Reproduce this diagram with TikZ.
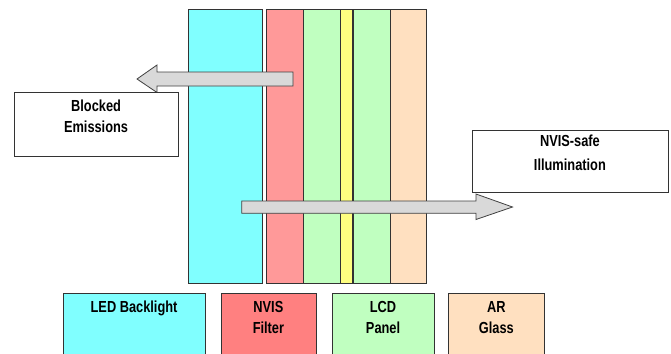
\documentclass[tikz,border=0pt]{standalone}
\usepackage{fontspec}
\setmainfont{Liberation Sans}
\usetikzlibrary{positioning}

\definecolor{ledcyan}{HTML}{80FFFF}
\definecolor{filterred}{HTML}{FF9999}
\definecolor{filterlabel}{HTML}{FF8080}
\definecolor{lcdgreen}{HTML}{C0FFC0}
\definecolor{lcyellow}{HTML}{FFFF80}
\definecolor{glasspeach}{HTML}{FFE0C0}
\definecolor{arrowgray}{HTML}{D9D9D9}

\tikzset{
  layer/.style={draw=black!80, anchor=north west, inner sep=0pt, minimum height=274pt},
  labelbox/.style={draw=black!80, anchor=north west, inner sep=0pt, minimum height=80pt},
  notebox/.style={draw=black!80, fill=white, anchor=north west, inner sep=0pt},
  caption/.style={inner sep=0pt, align=center, font=\fontsize{16}{21}\selectfont\bfseries, xscale=0.8, transform shape},
  blockarrow/.style={draw=black!75, fill=arrowgray, line width=0.8pt}
}

\begin{document}
\begin{tikzpicture}[x=1pt, y=-1pt]
  \useasboundingbox (0,0) rectangle (671,353);
  \clip (0,0) rectangle (671,353);

  % display stack
  \node[layer, fill=ledcyan, minimum width=74pt] (backlight) at (188.3,9.3) {};
  \node[layer, fill=filterred, minimum width=36.6pt] (filter) at (266.3,9.3) {};
  \node[layer, fill=lcdgreen, minimum width=36.3pt, right=0pt of filter.north east, anchor=north west] (lcdA) {};
  \node[layer, fill=lcyellow, minimum width=12.3pt, right=0pt of lcdA.north east, anchor=north west] (liquid) {};
  \node[layer, fill=lcdgreen, minimum width=36.9pt, right=0pt of liquid.north east, anchor=north west] (lcdB) {};
  \node[layer, fill=glasspeach, minimum width=36.3pt, right=0pt of lcdB.north east, anchor=north west] (glass) {};

  % light paths
  \draw[blockarrow] (293,72) -- (157,72) -- (157,65) -- (137,79) -- (157,92.5) -- (157,86) -- (293,86) -- cycle;
  \draw[blockarrow] (241.7,201) -- (476,201) -- (476,194) -- (512.5,207) -- (476,219.5) -- (476,213.3) -- (241.7,213.3) -- cycle;

  % notes
  \node[notebox, minimum width=163.7pt, minimum height=64pt] (blocked) at (14,91.7) {};
  \node[caption, below=8pt of blocked.north] {Blocked\\Emissions};
  \node[notebox, minimum width=196pt, minimum height=61.7pt] (safe) at (471.7,130) {};
  \node[caption, font=\fontsize{16}{24}\selectfont\bfseries, below=5pt of safe.north] {NVIS-safe\\Illumination};

  % legend
  \node[labelbox, fill=ledcyan, minimum width=142.3pt] (ledkey) at (62.7,293.3) {};
  \node[caption, below=7.5pt of ledkey.north] {LED Backlight};
  \node[labelbox, fill=filterlabel, minimum width=95pt] (filterkey) at (220.7,293.3) {};
  \node[caption, below=7.5pt of filterkey.north] {NVIS\\Filter};
  \node[labelbox, fill=lcdgreen, minimum width=102.3pt] (lcdkey) at (331.7,293.3) {};
  \node[caption, below=7.5pt of lcdkey.north] {LCD\\Panel};
  \node[labelbox, fill=glasspeach, minimum width=95.7pt] (glasskey) at (448.3,293.3) {};
  \node[caption, below=7.5pt of glasskey.north] {AR\\Glass};
\end{tikzpicture}
\end{document}
